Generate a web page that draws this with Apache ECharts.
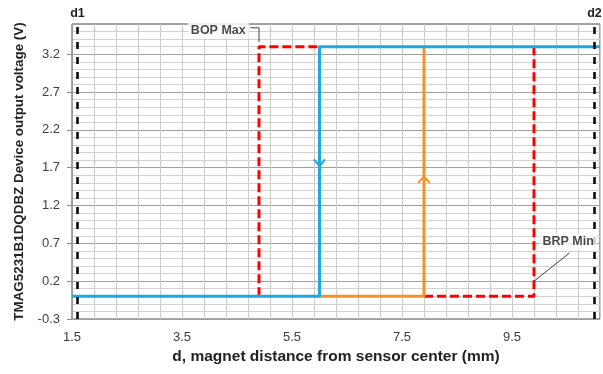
<!DOCTYPE html>
<html><head><meta charset="utf-8">
<script src="https://cdn.jsdelivr.net/npm/echarts@6/dist/echarts.min.js"></script>
<style>html,body{margin:0;padding:0;background:#fff}#c{width:603px;height:374px}</style>
</head><body><div id="c"></div>
<script>
// tick labels
const xTickLabels = ['1.5','3.5','5.5','7.5','9.5'];
const yTickLabels = ['-0.3','0.2','0.7','1.2','1.7','2.2','2.7','3.2'];
// blue: output trace, switching at 6.0 mm
const fallX = [1.5, 6.0, 6.0, 11.1];
const fallY = [0, 0, 3.3, 3.3];
// orange trace, switching at 7.9 mm
const riseX = [6.0, 7.9, 7.9];
const riseY = [0, 0, 3.3];
// red dashed limits (visible parts)
const bopX = [4.9, 4.9, 6.0];
const bopY = [0, 3.3, 3.3];
const brpX = [7.9, 9.9, 9.9];
const brpY = [0, 0, 3.3];
// arrow heads
const downArrowX = [5.9, 6.0, 6.1];
const downArrowY = [1.81, 1.72, 1.81];
const upArrowX = [7.79, 7.9, 8.01];
const upArrowY = [1.50, 1.58, 1.50];
// reference distances
const refNames = ['d1', 'd2'];
const refX = [1.6, 11.0];
// annotations
const noteNames = ['BOP Max', 'BRP Min'];
const noteX = [4.16, 10.52];
const noteY = [3.52, 0.72];
const bopLeaderX = [4.74, 4.9, 4.9];
const bopLeaderY = [3.55, 3.55, 3.36];
const brpLeaderX = [9.9, 10.54];
const brpLeaderY = [0.2, 0.57];

const FONT = '"Liberation Sans", Arial, sans-serif';
const zip = (xs, ys) => xs.map((x, i) => [x, ys[i]]);
const lineS = (xs, ys, color, width, type, z) => ({
  type: 'line', data: zip(xs, ys), symbol: 'none', showSymbol: false,
  lineStyle: { color, width, type }, z, silent: true, animation: false
});

const chart = echarts.init(document.getElementById('c'), null, { renderer: 'canvas' });
chart.setOption({
  animation: false,
  backgroundColor: '#fff',
  grid: { left: 72, right: 3, top: 24, bottom: 55, show: true, borderColor: '#4a4a4a', borderWidth: 1, backgroundColor: 'transparent' },
  xAxis: {
    type: 'value', min: 1.5, max: 11.1, interval: 0.4,
    name: 'd, magnet distance from sensor center (mm)', nameLocation: 'middle', nameGap: 29,
    nameTextStyle: { fontFamily: FONT, fontWeight: 'bold', fontSize: 15.5, color: '#222' },
    axisLine: { show: false }, axisTick: { show: false },
    axisLabel: { margin: 12, fontFamily: FONT, fontSize: 13, color: '#404040',
      formatter: v => { const s = (+v).toFixed(1); return xTickLabels.includes(s) ? s : ''; } },
    splitLine: { show: true, lineStyle: { color: '#cccccc', width: 1 } }
  },
  yAxis: [{
    type: 'value', min: -0.3, max: 3.6, interval: 0.1,
    name: 'TMAG5231B1DQDBZ Device output voltage (V)', nameLocation: 'middle', nameGap: 46,
    nameTextStyle: { fontFamily: FONT, fontWeight: 'bold', fontSize: 13.4, color: '#222' },
    axisLine: { show: true, lineStyle: { color: '#9a9a9a' } }, axisTick: { show: false },
    axisLabel: { show: false },
    splitLine: { show: true, lineStyle: { color: '#d2d2d2', width: 1 } }
  }, {
    type: 'value', min: -0.3, max: 3.6, interval: 0.5, position: 'left',
    axisLine: { show: false },
    axisTick: { show: true, inside: false, length: 5, lineStyle: { color: '#8a8a8a' } },
    axisLabel: { margin: 12, fontFamily: FONT, fontSize: 13, color: '#404040', showMaxLabel: false,
      formatter: v => { const s = (+v).toFixed(1); return yTickLabels.includes(s) ? s : ''; } },
    splitLine: { show: true, lineStyle: { color: '#a0a0a0', width: 1 } }
  }],
  series: [
    lineS(bopX, bopY, '#ff0000', 3, [9, 4], 2),
    lineS(brpX, brpY, '#ff0000', 3, [9, 4], 2),
    lineS(riseX, riseY, '#f39323', 3, 'solid', 3),
    lineS(fallX, fallY, '#1ba9e1', 3, 'solid', 4),
    lineS(downArrowX, downArrowY, '#1ba9e1', 2, 'solid', 4),
    lineS(upArrowX, upArrowY, '#f39323', 2, 'solid', 4),
    lineS(bopLeaderX, bopLeaderY, '#404040', 1, 'solid', 5),
    lineS(brpLeaderX, brpLeaderY, '#404040', 1, 'solid', 5),
    {
      type: 'line', data: [], symbol: 'none', z: 6,
      markLine: {
        silent: true, symbol: 'none', animation: false,
        lineStyle: { color: '#000', width: 2.5, type: [7, 8] },
        label: { show: true, position: 'end', distance: 4, formatter: '{b}',
          fontFamily: FONT, fontWeight: 'bold', fontSize: 12.5, color: '#222' },
        data: refNames.map((n, i) => ({ name: n, xAxis: refX[i] }))
      }
    },
    {
      type: 'scatter', symbolSize: 1, z: 7, silent: true,
      itemStyle: { color: 'rgba(0,0,0,0)' },
      data: noteNames.map((n, i) => ({ name: n, value: [noteX[i], noteY[i]] })),
      label: { show: true, position: 'inside', formatter: '{b}', fontFamily: FONT, fontWeight: 'bold',
        fontSize: 12.5, color: '#1a1a1a', backgroundColor: '#fff', padding: [2, 3] }
    }
  ]
});
</script></body></html>
